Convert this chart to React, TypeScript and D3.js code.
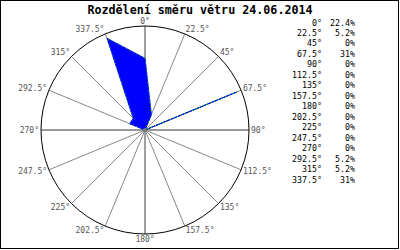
import React from "react";
import * as d3 from "d3";

const title = "Rozdělení směru větru 24.06.2014";
const directions = [0, 22.5, 45, 67.5, 90, 112.5, 135, 157.5, 180, 202.5, 225, 247.5, 270, 292.5, 315, 337.5];
const values = [22.4, 5.2, 0, 31, 0, 0, 0, 0, 0, 0, 0, 0, 0, 5.2, 5.2, 31];
const radialMax = 32.5;

const W = 400;
const H = 250;
const cx = 145;
const cy = 130;
const R = 104;

const fmtDeg = (d: number) => `${d}°`;
const fmtVal = (v: number) => `${v}%`;

export default function App() {
  const rScale = d3.scaleLinear().domain([0, radialMax]).range([0, R]);
  const rad = (deg: number) => (deg * Math.PI) / 180;
  const data = directions.map((d, i) => ({ d, v: values[i] }));

  const area = d3
    .lineRadial<{ d: number; v: number }>()
    .angle((p) => rad(p.d))
    .radius((p) => rScale(p.v))
    .curve(d3.curveLinearClosed);
  const pathD = area(data) || "";

  const mono = "'DejaVu Sans Mono', 'Liberation Mono', monospace";

  const legendY = d3.scaleLinear().domain([0, directions.length - 1]).range([22.5, 179.5]);

  return (
    <svg
      width={W}
      height={H}
      style={{ position: "absolute", left: 0, top: 0, background: "#fff" }}
    >
      <rect x={0.5} y={0.5} width={W - 2} height={H - 2} fill="#fff" stroke="#000" strokeWidth={1} />
      <text
        x={200}
        y={9.5}
        textAnchor="middle"
        dominantBaseline="central"
        fontFamily={mono}
        fontWeight="bold"
        fontSize={11.7}
        fill="#000"
      >
        {title}
      </text>

      <g transform={`translate(${cx},${cy})`}>
        {directions.map((d) => {
          const main = d % 90 === 0;
          return (
            <line
              key={`g${d}`}
              x1={0}
              y1={0}
              x2={R * Math.sin(rad(d))}
              y2={-R * Math.cos(rad(d))}
              stroke={main ? "#777" : "#888"}
              strokeWidth={main ? 1.4 : 1}
            />
          );
        })}
        <circle r={R} fill="none" stroke="#000" strokeWidth={1} />
        <path d={pathD} fill="#0000ff" stroke="#0000ff" strokeWidth={1} strokeLinejoin="miter" />
        <path d={pathD} fill="none" stroke="#00dd00" strokeWidth={1} strokeDasharray="1,3" />
        <circle r={2} fill="#777" />
        {directions.map((d) => {
          const s = Math.sin(rad(d));
          const c = Math.cos(rad(d));
          const px = (R + 1) * s + s * 1;
          const py = -(R + 1) * c - c * 4;
          const anchor = Math.abs(s) < 0.01 ? "middle" : s > 0 ? "start" : "end";
          return (
            <text
              key={`l${d}`}
              x={px}
              y={py}
              textAnchor={anchor}
              dominantBaseline="central"
              fontFamily={mono}
              fontSize={8}
              fill="#555"
            >
              {fmtDeg(d)}
            </text>
          );
        })}
      </g>

      {data.map((p, i) => (
        <g key={`lg${p.d}`}>
          <text
            x={322}
            y={legendY(i)}
            textAnchor="end"
            dominantBaseline="central"
            fontFamily={mono}
            fontSize={8.3}
            fill="#000"
          >
            {fmtDeg(p.d)}
          </text>
          <text
            x={355}
            y={legendY(i)}
            textAnchor="end"
            dominantBaseline="central"
            fontFamily={mono}
            fontSize={8.3}
            fill="#000"
          >
            {fmtVal(p.v)}
          </text>
        </g>
      ))}
    </svg>
  );
}
